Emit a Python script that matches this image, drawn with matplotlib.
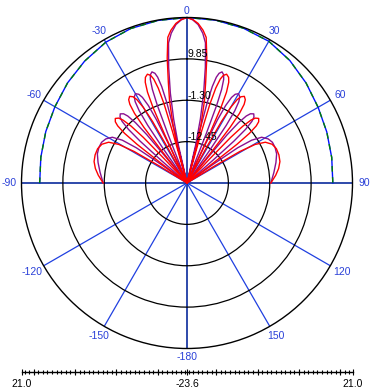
import matplotlib
matplotlib.use("Agg")
import matplotlib.pyplot as plt
import numpy as np

plt.rcParams["font.family"] = ["Liberation Sans", "DejaVu Sans"]

#-------------------------------------------------------------------------------
# Radial scale [dB]: centre, rings and rim
r_min = -23.6
r_max = 21.0
ring_vals = [-12.45, -1.30, 9.85]
ring_labels = ["-12.45", "-1.30", "9.85"]

# Angle grid
angle_ticks = [0, 30, 60, 90, 120, 150, 180, -150, -120, -90, -60, -30]
angle_labels = ["0", "30", "60", "90", "120", "150", "-180",
                "-150", "-120", "-90", "-60", "-30"]

# Scale bar below the plot (labels at both ends and centre)
bar_labels = ["21.0", "-23.6", "21.0"]

# Red pattern (angle in deg, level in dB), left half -90..-2
red_ang_left = [-90, -85, -81, -77, -73, -69, -65.5, -62.5, -60.5, -59.2, -58.4, -58,
                -53, -52.75, -52.25, -51.5, -50.5, -49.5, -48, -46.5, -45.5, -44.5, -43.75, -43.25, -43,
                -38.5, -38.25, -37.75, -37, -36, -35, -33.5, -32, -31, -30, -29.25, -28.75, -28.5,
                -25, -24.75, -24.25, -23.5, -22.5, -21.5, -20, -18.65, -17.75, -16.85, -16.18, -15.73,
                -15.5, -14.5, -13.5, -12, -10.5, -9, -7.5, -6, -4, -2]
red_db_left = [-1.0, 0.4, 1.4, 2.1, 2.3, 2.2, 1.6, 0.2, -2.5, -7.0, -15.0, -23.6,
               -23.6, -14.6, -6.6, -2.1, 0.6, 1.8, 2.4, 1.8, 0.6, -2.1, -6.6, -14.6, -23.6,
               -23.6, -12.6, -4.6, -0.1, 2.6, 3.8, 4.4, 3.8, 2.6, -0.1, -4.6, -12.6, -23.6,
               -23.6, -9.4, -1.4, 3.1, 5.8, 7.0, 7.6, 7.0, 5.8, 3.1, -1.4, -9.4,
               -23.6, -13.5, -7.5, -1.0, 4.0, 10.5, 16.0, 17.8, 19.5, 20.5]
# Red pattern, right half 0..90
red_ang_right = [0, 2, 4, 6, 7.5, 9, 10.5, 12, 13.5, 14.5, 15.5,
                 15.73, 16.18, 16.85, 17.75, 18.65, 20, 21.5, 22.5, 23.5, 24.25, 24.75, 25,
                 28.5, 28.75, 29.25, 30, 31, 32, 33.5, 35, 36, 37, 37.75, 38.25, 38.5,
                 43, 43.25, 43.75, 44.5, 45.5, 46.5, 48, 49.5, 50.5, 51.5, 52.25, 52.75, 53,
                 58, 58.4, 59.2, 60.5, 62.5, 65.5, 69, 73, 77, 81, 85, 90]
red_db_right = [21.0, 20.5, 19.5, 17.8, 16.0, 10.5, 4.0, -1.0, -7.5, -13.5, -23.6,
                -9.4, -1.4, 3.1, 5.8, 7.0, 7.6, 7.0, 5.8, 3.1, -1.4, -9.4, -23.6,
                -23.6, -12.6, -4.6, -0.1, 2.6, 3.8, 4.4, 3.8, 2.6, -0.1, -4.6, -12.6, -23.6,
                -23.6, -14.6, -6.6, -2.1, 0.6, 1.8, 2.4, 1.8, 0.6, -2.1, -6.6, -14.6, -23.6,
                -23.6, -15.0, -7.0, -2.5, 0.2, 1.6, 2.2, 2.3, 2.1, 1.4, 0.4, -1.0]

# Purple pattern, left half -90..-2
pur_ang_left = [-90, -83, -77, -72, -68, -64.5, -61.5, -58.5, -56.5, -55.2, -54.4, -54,
                -49, -48.75, -48.25, -47.5, -46.5, -45.5, -44, -42.5, -41.5, -40.5, -39.75, -39.25, -39,
                -35, -34.75, -34.25, -33.5, -32.5, -31.5, -30, -28.5, -27.5, -26.5, -25.75, -25.25, -25,
                -21.5, -21.3, -20.9, -20.3, -19.5, -18.7, -17.5, -16.3, -15.5, -14.7, -14.1, -13.7,
                -13.5, -12.8, -11.8, -10.5, -9, -7.5, -6, -4, -2]
pur_db_left = [-1.0, 0.0, 1.0, 1.8, 2.0, 1.9, 1.3, 0.0, -2.7, -7.0, -15.0, -23.6,
               -23.6, -14.7, -6.7, -2.2, 0.5, 1.7, 2.3, 1.7, 0.5, -2.2, -6.7, -14.7, -23.6,
               -23.6, -12.8, -4.8, -0.3, 2.4, 3.6, 4.2, 3.6, 2.4, -0.3, -4.8, -12.8, -23.6,
               -23.6, -9.2, -1.2, 3.3, 6.0, 7.2, 7.8, 7.2, 6.0, 3.3, -1.2, -9.2,
               -23.6, -13.0, -6.0, 1.0, 8.0, 14.5, 17.0, 19.2, 20.4]
# Purple pattern, right half 0..90
pur_ang_right = [0, 2, 4, 6, 7.5, 9, 10.5, 11.8, 12.8, 13.5,
                 13.7, 14.1, 14.7, 15.5, 16.3, 17.5, 18.7, 19.5, 20.3, 20.9, 21.3, 21.5,
                 25, 25.25, 25.75, 26.5, 27.5, 28.5, 30, 31.5, 32.5, 33.5, 34.25, 34.75, 35,
                 39, 39.25, 39.75, 40.5, 41.5, 42.5, 44, 45.5, 46.5, 47.5, 48.25, 48.75, 49,
                 54, 54.4, 55.2, 56.5, 58.5, 61.5, 64.5, 68, 72, 77, 83, 90]
pur_db_right = [21.0, 20.4, 19.2, 17.0, 14.5, 8.0, 1.0, -6.0, -13.0, -23.6,
                -9.2, -1.2, 3.3, 6.0, 7.2, 7.8, 7.2, 6.0, 3.3, -1.2, -9.2, -23.6,
                -23.6, -12.8, -4.8, -0.3, 2.4, 3.6, 4.2, 3.6, 2.4, -0.3, -4.8, -12.8, -23.6,
                -23.6, -14.7, -6.7, -2.2, 0.5, 1.7, 2.3, 1.7, 0.5, -2.2, -6.7, -14.7, -23.6,
                -23.6, -15.0, -7.0, -2.7, 0.0, 1.3, 1.9, 2.0, 1.8, 1.0, 0.0, -1.0]

# Envelope (green / blue)
env_ang = [-90, -80, -70, -60, -50, -40, -30, -20, -10, 0,
           10, 20, 30, 40, 50, 60, 70, 80, 90]
env_db = [16.1, 16.4, 16.9, 17.5, 18.4, 19.3, 20.2, 20.7, 20.9, 21.0,
          20.95, 20.8, 20.5, 19.5, 18.3, 17.2, 16.5, 16.0, 15.7]

#-------------------------------------------------------------------------------

def px_to_db(r_px, rim_px=165.5):
  """ Radius in pixels from the centre to a radial value. """
  return r_min + r_px / rim_px * (r_max - r_min)

def main():
  W, H = 371, 392
  fig = plt.figure(figsize=(W / 100, H / 100), dpi=100)
  fig.patch.set_facecolor("white")

  grid_blue = "#2040e0"
  axis_blue = "#0a2a9c"
  label_blue = "#2a40d8"

  ax = fig.add_axes([21.5 / W, (H - 348.5) / H, 331 / W, 331 / H],
                    projection="polar")
  ax.set_theta_zero_location("N")
  ax.set_theta_direction(-1)
  ax.set_ylim(r_min, r_max)

  # Grid: blue spokes every 30 deg, black rings
  spokes = np.arange(0, 360, 30)
  ax.set_xticks(np.deg2rad(spokes))
  ax.set_xticklabels([])
  minor = [a for a in np.arange(0, 360, 7.5) if a % 30 != 0]
  ax.set_xticks(np.deg2rad(minor), minor=True)
  ax.tick_params(axis="x", which="both", direction="inout", length=4,
                 width=0.8, color="black")
  ax.xaxis.grid(True, color=grid_blue, lw=0.9, ls="-")
  for a, gl in zip(spokes, ax.xaxis.get_gridlines()):
    if a % 90 == 0:
      gl.set_color(axis_blue)
      gl.set_linewidth(1.2)
  ax.set_yticks(ring_vals)
  ax.set_yticklabels([])
  ax.yaxis.grid(True, color="black", lw=0.9, ls="-")
  ax.spines["polar"].set_color("black")
  ax.spines["polar"].set_linewidth(1.0)

  # Envelope
  ax.plot(np.deg2rad(env_ang), env_db, color="#0010ff", lw=1.0)
  ax.plot(np.deg2rad(env_ang), env_db, color="#008000", lw=1.0, dashes=(4, 4))

  # Patterns
  pur_ang = pur_ang_left + pur_ang_right
  pur_db = pur_db_left + pur_db_right
  red_ang = red_ang_left + red_ang_right
  red_db = red_db_left + red_db_right
  ax.plot(np.deg2rad(pur_ang), pur_db, color="#8a1090", lw=1.0)
  ax.plot(np.deg2rad(red_ang), red_db, color="#ff0000", lw=1.0)

  # Ring labels
  for v, s in zip(ring_vals, ring_labels):
    ax.annotate(s, xy=(0, v), xytext=(1, 1.5), textcoords="offset pixels",
                ha="left", va="baseline", fontsize=7.5, color="black")

  # Angle labels
  for a, s in zip(angle_ticks, angle_labels):
    rad = np.deg2rad(a)
    r_px = 172.5 + 5 * abs(np.sin(rad)) + (2 if abs(a) > 90 else 0)
    ax.text(rad, px_to_db(r_px), s, ha="center", va="center",
            fontsize=7.5, color=label_blue, clip_on=False)

  # Scale bar
  sb = fig.add_axes([21.5 / W, (H - 372) / H, 331 / W, 0.0001])
  half = r_max - r_min
  sb.set_xlim(-half, half)
  sb.set_ylim(0, 1)
  for s in ["top", "left", "right"]:
    sb.spines[s].set_visible(False)
  sb.spines["bottom"].set_linewidth(1.0)
  sb.patch.set_visible(False)
  sb.set_yticks([])
  step = (r_max - r_min) / 4
  majors = sorted(set([-half, half, 0] +
                      [s * (7.9 + k * step) for s in (-1, 1) for k in range(4)]))
  labels = []
  for m in majors:
    if abs(m + half) < 1e-6:
      labels.append(bar_labels[0])
    elif abs(m) < 1e-6:
      labels.append(bar_labels[1])
    elif abs(m - half) < 1e-6:
      labels.append(bar_labels[2])
    else:
      labels.append("")
  sb.set_xticks(majors)
  sb.set_xticklabels(labels)
  sub = step / 9
  mins = [s * (0.43 + k * sub) for s in (-1, 1) for k in range(36)
          if 0.43 + k * sub < half - 0.3]
  sb.set_xticks(mins, minor=True)
  sb.tick_params(axis="x", which="major", direction="inout", length=5,
                 width=0.8, pad=2.5, labelsize=7.5, colors="black")
  sb.tick_params(axis="x", which="minor", direction="inout", length=2.4,
                 width=0.8)

  fig.savefig("out.png", dpi=100, facecolor="white")
  plt.close(fig)

if __name__ == "__main__":
  main()
